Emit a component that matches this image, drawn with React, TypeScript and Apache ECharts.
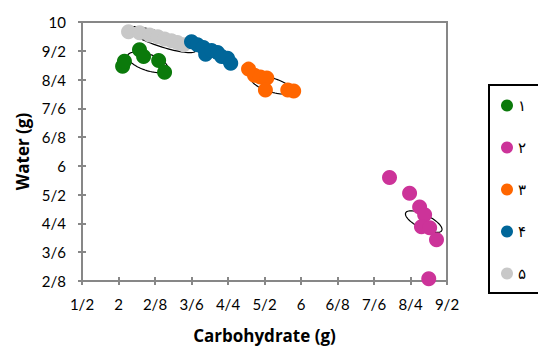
import React, { useEffect, useRef } from "react";
import * as echarts from "echarts";

// Axis ticks (Persian decimal notation uses "/" as the decimal separator)
const X_MIN = 1.2;
const X_MAX = 9.2;
const X_STEP = 0.8;
const Y_MIN = 2.8;
const Y_MAX = 10;
const Y_STEP = 0.8;
const xTickLabels = ["1/2", "2", "2/8", "3/6", "4/4", "5/2", "6", "6/8", "7/6", "8/4", "9/2"];
const yTickLabels = ["2/8", "3/6", "4/4", "5/2", "6", "6/8", "7/6", "8/4", "9/2", "10"];

const seriesNames = ["۱", "۲", "۳", "۴", "۵"];
const seriesColors = ["#0B7A0B", "#CC3399", "#FF6600", "#006699", "#C8C8C8"];

// [carbohydrate, water]
const group1 = [[2.09, 8.77], [2.13, 8.91], [2.46, 9.23], [2.55, 9.04], [2.88, 8.93], [3.01, 8.6]];
const group2 = [[7.94, 5.68], [8.38, 5.24], [8.6, 4.86], [8.71, 4.64], [8.64, 4.31], [8.82, 4.28], [8.97, 3.95], [8.8, 2.86]];
const group3 = [[4.85, 8.69], [4.98, 8.52], [5.11, 8.47], [5.25, 8.44], [5.22, 8.11], [5.71, 8.11], [5.84, 8.08]];
const group4 = [[3.6, 9.45], [3.73, 9.37], [3.86, 9.29], [3.91, 9.1], [4.04, 9.21], [4.17, 9.15], [4.26, 9.04], [4.39, 8.99], [4.46, 8.85]];
const group5 = [[2.22, 9.73], [2.46, 9.7], [2.68, 9.64], [2.86, 9.59], [3.01, 9.53], [3.16, 9.48], [3.29, 9.43], [3.43, 9.37]];

// Cluster ellipses: [centerX, centerY, majorDx, majorDy, minorDx, minorDy] in data units
const ellipse1 = [2.64, 8.88, 0.44, -0.19, -0.058, -0.215];
const ellipse2 = [8.69, 4.45, 0.395, -0.246, -0.068, -0.172];
const ellipse3 = [5.36, 8.25, 0.45, -0.178, -0.046, -0.183];
const ellipse4 = [4.04, 9.15, 0.48, -0.27, -0.04, -0.1];
const ellipse5 = [2.94, 9.51, 0.746, -0.315, -0.049, -0.181];

const groups = [group1, group2, group3, group4, group5];
const ellipses = [ellipse1, ellipse2, ellipse3, ellipse4, ellipse5];

const FONT = "Lato, 'Open Sans', sans-serif";
const TITLE_FONT = "'Open Sans', Lato, sans-serif";
const AXIS_GRAY = "#878787";

function labelFor(list: string[], min: number, step: number) {
  return (v: number) => {
    const i = Math.round((v - min) / step);
    return list[i] ?? "";
  };
}

export default function App() {
  const ref = useRef<HTMLDivElement>(null);

  useEffect(() => {
    if (!ref.current) return;
    const chart = echarts.init(ref.current, undefined, { renderer: "svg" });

    const baseX = {
      type: "value" as const,
      min: X_MIN,
      max: X_MAX,
      interval: X_STEP,
      position: "bottom" as const,
      splitLine: { show: false },
    };
    const baseY = {
      type: "value" as const,
      min: Y_MIN,
      max: Y_MAX,
      interval: Y_STEP,
      position: "left" as const,
      splitLine: { show: false },
    };

    // z-order: gray under blue under orange, then magenta, green
    const drawOrder = [4, 3, 2, 1, 0];

    const scatterSeries = drawOrder.map((gi, k) => ({
      type: "scatter" as const,
      name: seriesNames[gi],
      data: groups[gi],
      symbol: "circle",
      symbolSize: 15,
      itemStyle: { color: seriesColors[gi], opacity: 1 },
      z: 3 + k,
      xAxisIndex: 0,
      yAxisIndex: 0,
    }));

    const ellipseSeries = {
      type: "custom" as const,
      name: "ellipses",
      xAxisIndex: 0,
      yAxisIndex: 0,
      z: 2,
      silent: true,
      dimensions: ["cx", "cy", "ax", "ay", "bx", "by"],
      encode: { x: 0, y: 1 },
      data: ellipses,
      renderItem: (params: any, api: any) => {
        const cx = api.value(0);
        const cy = api.value(1);
        const ax = api.value(2);
        const ay = api.value(3);
        const bx = api.value(4);
        const by = api.value(5);
        const pts: number[][] = [];
        const n = 72;
        for (let i = 0; i < n; i++) {
          const t = (i / n) * Math.PI * 2;
          const c = Math.cos(t);
          const s = Math.sin(t);
          pts.push(api.coord([cx + ax * c + bx * s, cy + ay * c + by * s]));
        }
        return {
          type: "polygon",
          shape: { points: pts },
          style: { fill: "none", stroke: "#000", lineWidth: 1.2 },
        };
      },
    };

    chart.setOption({
      animation: false,
      backgroundColor: "#fff",
      grid: {
        left: 82,
        right: 91,
        top: 22,
        bottom: 64,
        show: true,
        borderColor: AXIS_GRAY,
        borderWidth: 2,
      },
      legend: {
        data: seriesNames,
        orient: "vertical",
        left: 489,
        top: 85,
        borderColor: "#000",
        borderWidth: 2,
        padding: [13, 30, 12, 12],
        itemGap: 27,
        itemWidth: 12,
        itemHeight: 12,
        icon: "circle",
        textStyle: { fontSize: 15, color: "#000", fontFamily: "'DejaVu Sans', sans-serif" },
      },
      xAxis: [
        {
          ...baseX,
          name: "Carbohydrate (g)",
          nameLocation: "middle",
          nameGap: 46,
          nameTextStyle: { fontFamily: TITLE_FONT, fontSize: 17, fontWeight: "bold", color: "#000" },
          axisLine: { show: true, lineStyle: { color: AXIS_GRAY, width: 2 } },
          axisTick: { show: true, inside: false, length: 4, lineStyle: { color: AXIS_GRAY, width: 2 } },
          axisLabel: {
            margin: 15,
            fontFamily: FONT,
            fontSize: 15,
            color: "#000",
            formatter: labelFor(xTickLabels, X_MIN, X_STEP),
          },
        },
        {
          ...baseX,
          axisLine: { show: false },
          axisTick: { show: true, inside: true, length: 4, lineStyle: { color: AXIS_GRAY, width: 2 } },
          axisLabel: { show: false },
        },
      ],
      yAxis: [
        {
          ...baseY,
          name: "Water (g)",
          nameLocation: "middle",
          nameGap: 51,
          nameTextStyle: { fontFamily: TITLE_FONT, fontSize: 17, fontWeight: "bold", color: "#000" },
          axisLine: { show: true, lineStyle: { color: AXIS_GRAY, width: 2 } },
          axisTick: { show: true, inside: false, length: 4, lineStyle: { color: AXIS_GRAY, width: 2 } },
          axisLabel: {
            margin: 16,
            fontFamily: FONT,
            fontSize: 15,
            color: "#000",
            formatter: labelFor(yTickLabels, Y_MIN, Y_STEP),
          },
        },
        {
          ...baseY,
          axisLine: { show: false },
          axisTick: { show: true, inside: true, length: 4, lineStyle: { color: AXIS_GRAY, width: 2 } },
          axisLabel: { show: false },
        },
      ],
      series: [ellipseSeries, ...scatterSeries],
    });

    return () => chart.dispose();
  }, []);

  return (
    <div
      ref={ref}
      style={{ position: "absolute", left: 0, top: 0, width: 538, height: 349 }}
    />
  );
}
